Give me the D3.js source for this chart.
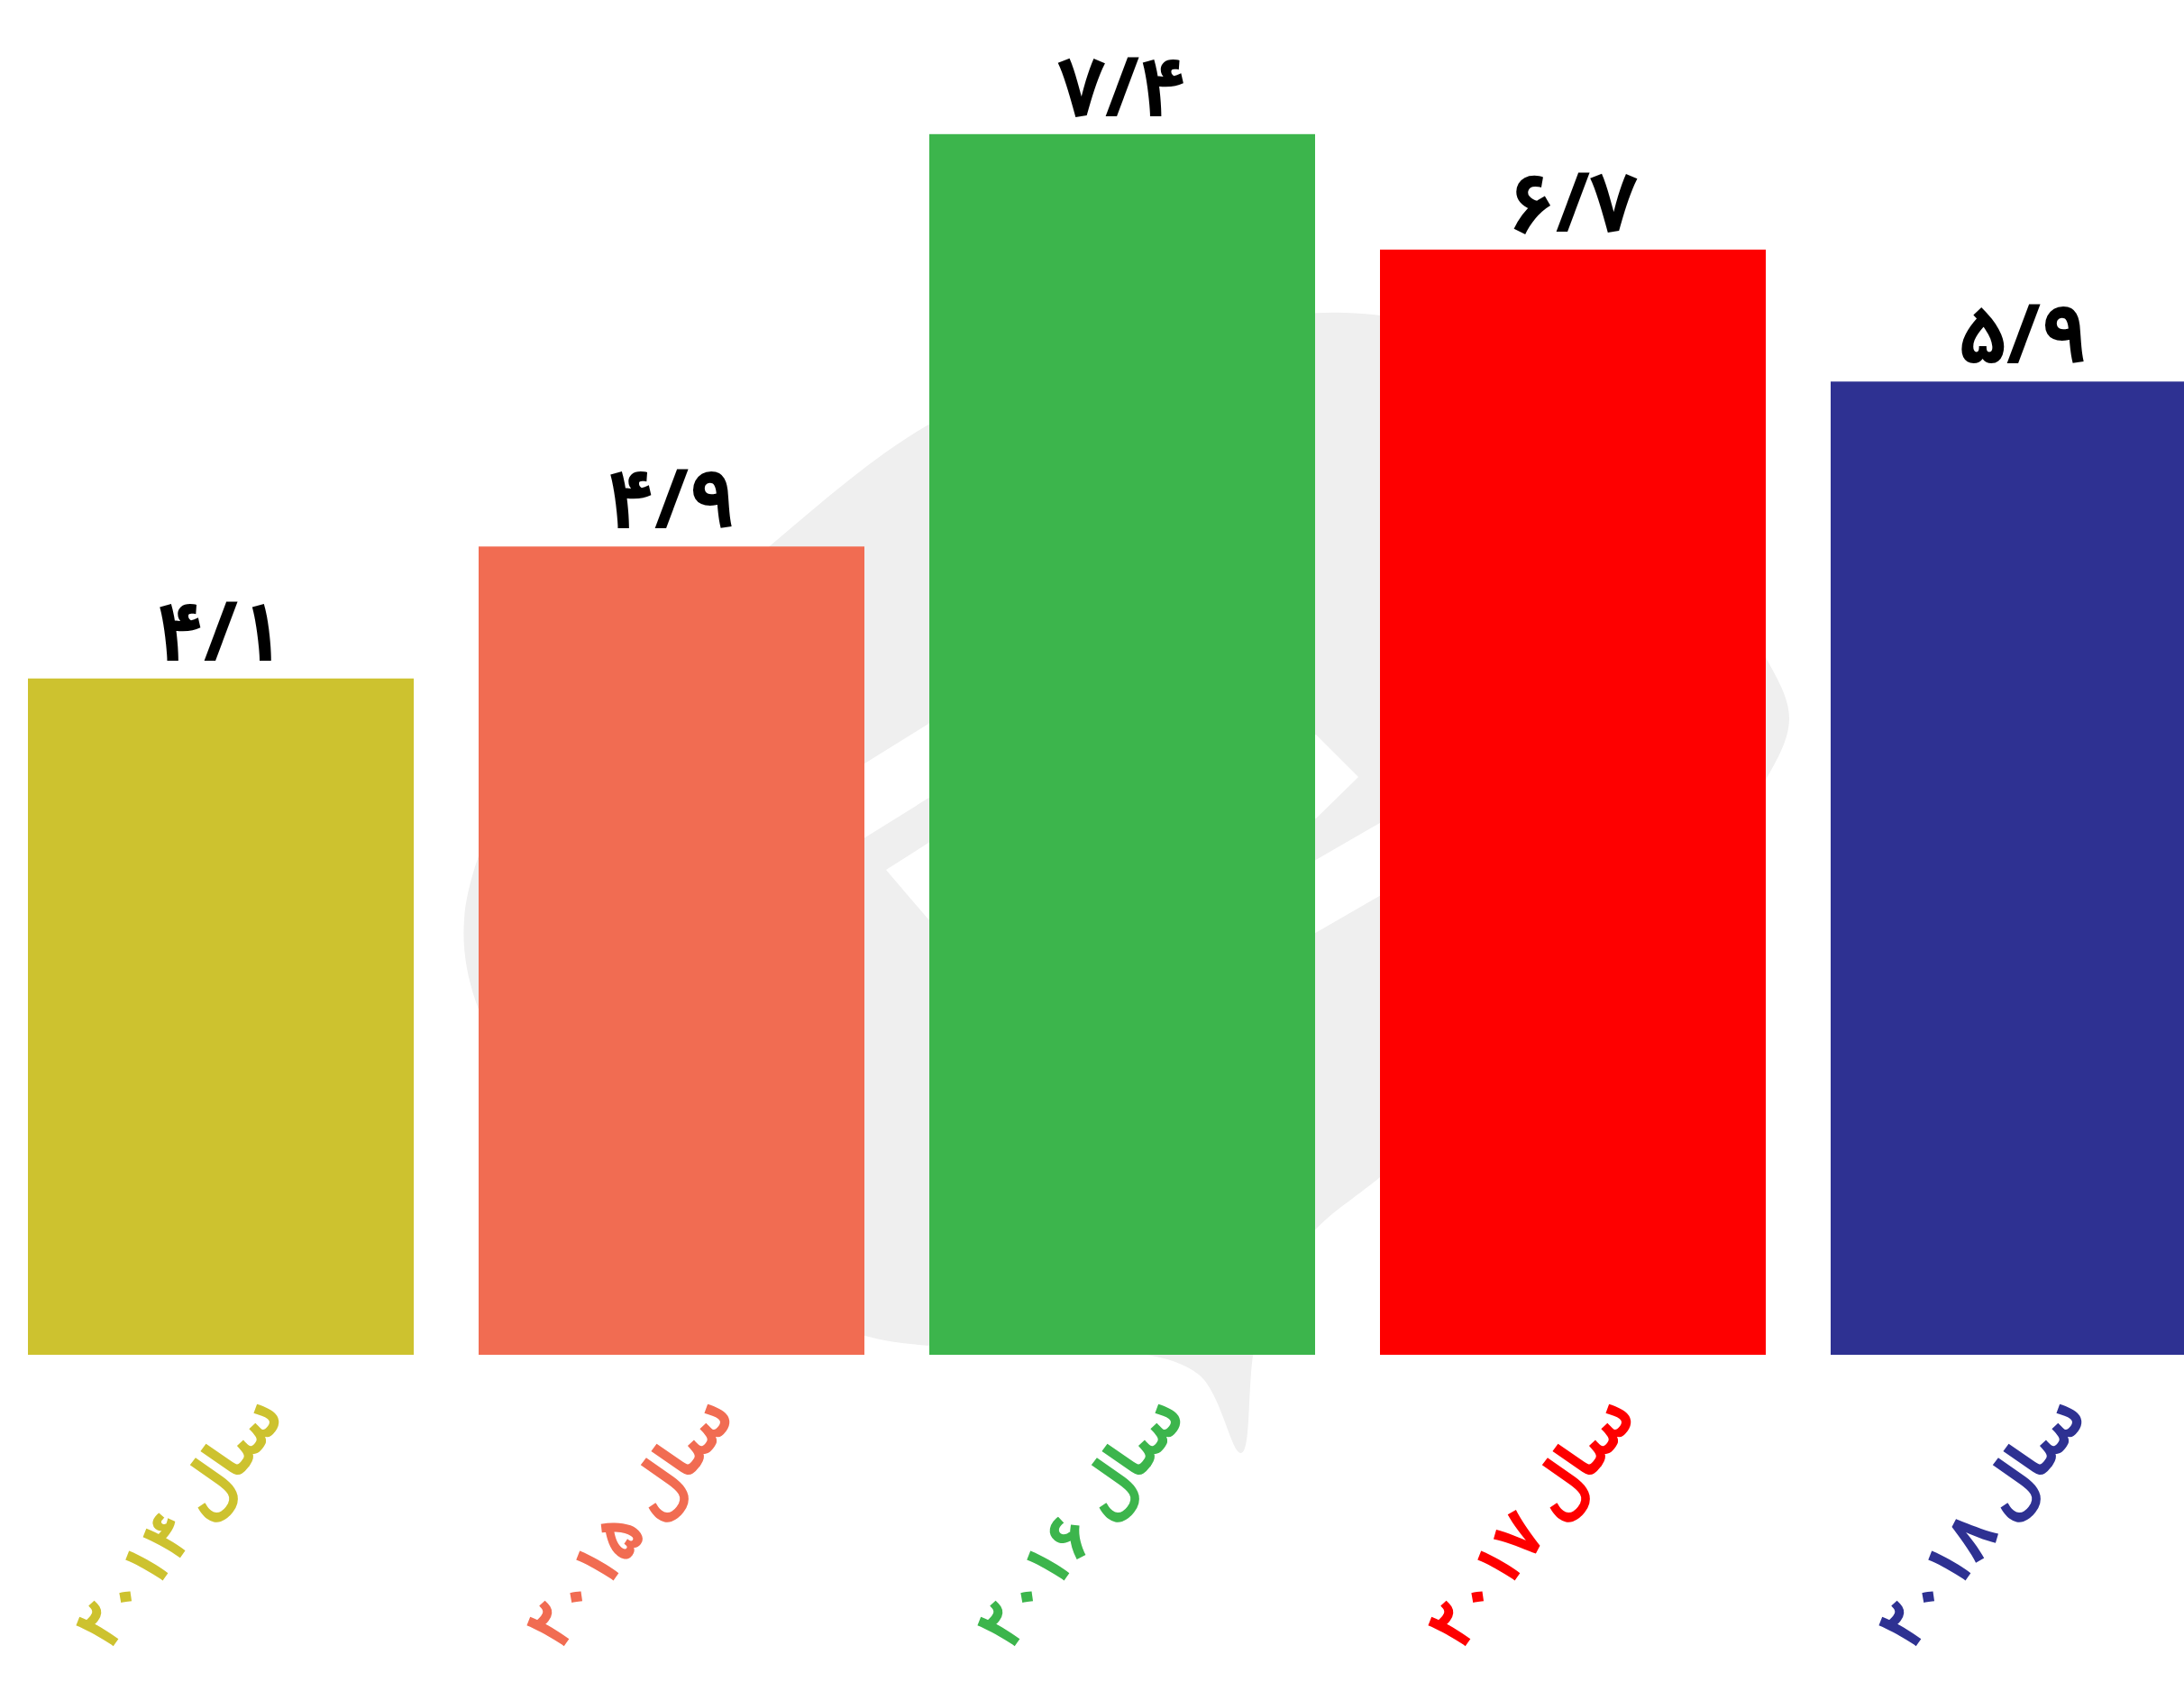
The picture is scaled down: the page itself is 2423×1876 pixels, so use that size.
<!DOCTYPE html>
<html>
<head>
<meta charset="utf-8">
<script src="https://cdn.jsdelivr.net/npm/d3@7"></script>
<style>
  html, body { margin: 0; padding: 0; background: #ffffff; overflow: hidden; }
  svg { display: block; }
</style>
</head>
<body>
<svg id="chart" width="2423" height="1876"></svg>
<script>
// ---- data ----
const categories = ["سال ۲۰۱۴", "سال ۲۰۱۵", "سال ۲۰۱۶", "سال ۲۰۱۷", "سال ۲۰۱۸"];
const values = [4.1, 4.9, 7.4, 6.7, 5.9];
const valueLabels = ["۴/۱", "۴/۹", "۷/۴", "۶/۷", "۵/۹"];
const colors = ["#cdc22f", "#f16c52", "#3cb54c", "#fe0000", "#2e3192"];

// ---- layout ----
const W = 2423, H = 1876;
const baseY = 1503;
const FONT = "'Noto Sans Arabic', 'Noto Naskh Arabic', 'Vazirmatn', 'DejaVu Sans', sans-serif";
const svg = d3.select("#chart");

const x = d3.scaleBand()
  .domain(categories)
  .range([-5, 2495])
  .paddingInner(0.144)
  .paddingOuter(0.072);

const y = d3.scaleLinear()
  .domain([0, 8.2])
  .range([baseY, baseY - 8.2 * 183]);

const color = d3.scaleOrdinal().domain(categories).range(colors);

// ---- faint watermark (decorative) ----
const wm = svg.append("g").attr("class", "watermark");
const outline = [
  [515, 1020], [620, 790], [800, 650], [1032, 470], [1250, 385], [1531, 350],
  [1760, 450], [1900, 640], [1955, 722], [1985, 797], [1955, 872], [1880, 970],
  [1700, 1170], [1531, 1306], [1450, 1375], [1395, 1480], [1377, 1612], [1330, 1525],
  [1220, 1495], [960, 1482], [720, 1350], [560, 1180]
];
wm.append("path")
  .attr("d", d3.line().curve(d3.curveCatmullRomClosed.alpha(0.5))(outline))
  .attr("fill", "#efefef");
wm.append("path")
  .attr("d", d3.line()([[900, 925], [1040, 838], [1450, 1000], [1580, 925]]))
  .attr("fill", "none")
  .attr("stroke", "#ffffff")
  .attr("stroke-width", 70);
wm.append("path")
  .attr("d", d3.line()([[983, 965], [1030, 935], [1460, 815], [1507, 862], [1460, 908], [1030, 1020]]) + "Z")
  .attr("fill", "#ffffff");

// ---- bars ----
svg.append("g").selectAll("rect")
  .data(categories)
  .join("rect")
  .attr("x", d => x(d))
  .attr("y", (d, i) => y(values[i]))
  .attr("width", x.bandwidth())
  .attr("height", (d, i) => y(0) - y(values[i]))
  .attr("fill", d => color(d));

// ---- value labels ----
svg.append("g").selectAll("text")
  .data(categories)
  .join("text")
  .attr("x", d => x(d) + x.bandwidth() / 2)
  .attr("y", (d, i) => y(values[i]) - 20)
  .attr("text-anchor", "middle")
  .attr("font-family", FONT)
  .attr("font-weight", "bold")
  .attr("font-size", 92)
  .attr("fill", "#000000")
  .text((d, i) => valueLabels[i]);

// ---- rotated category labels ----
svg.append("g").selectAll("text")
  .data(categories)
  .join("text")
  .attr("transform", d => `translate(${x(d) + x.bandwidth() / 2 + 72},${1572}) rotate(-53)`)
  .attr("text-anchor", "end")
  .attr("font-family", FONT)
  .attr("font-weight", "bold")
  .attr("font-size", 72)
  .attr("fill", d => color(d))
  .text(d => d);
</script>
</body>
</html>
